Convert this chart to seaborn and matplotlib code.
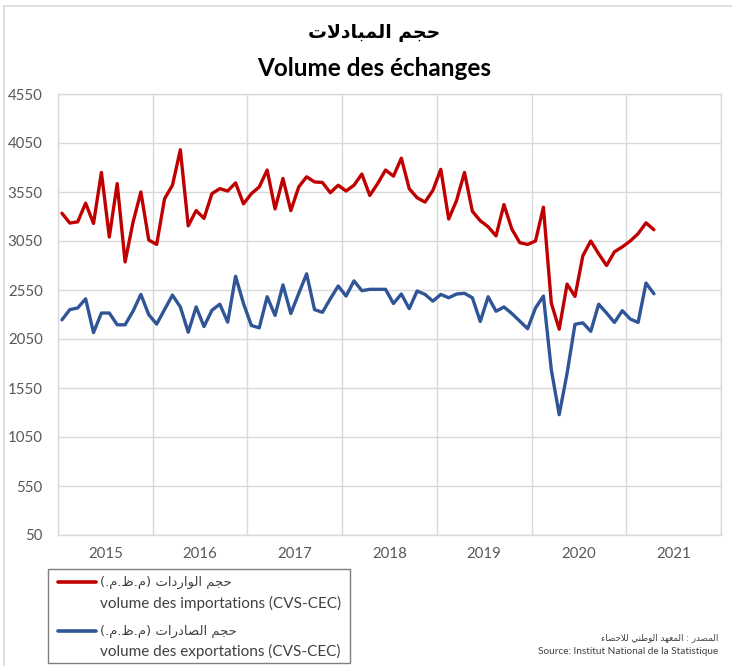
import matplotlib
matplotlib.use("Agg")
import numpy as np
import pandas as pd
import seaborn as sns
import matplotlib.pyplot as plt
from matplotlib.lines import Line2D
from matplotlib.patches import Rectangle

# ---------------- data (monthly, Jan 2015 - Apr 2021) ----------------
years = ["2015", "2016", "2017", "2018", "2019", "2020", "2021"]

imports = [3333, 3233, 3246, 3436, 3229, 3750, 3091, 3636, 2836, 3240, 3550, 3060,
           3015, 3481, 3619, 3981, 3205, 3360, 3281, 3533, 3584, 3560, 3643, 3429,
           3533, 3602, 3774, 3377, 3688, 3360, 3602, 3705, 3653, 3647, 3543, 3619,
           3560, 3619, 3733, 3515, 3636, 3774, 3712, 3895, 3584, 3491, 3447, 3567,
           3781, 3274, 3464, 3750, 3353, 3257, 3195, 3102, 3422, 3171, 3033, 3015,
           3050, 3395, 2417, 2150, 2610, 2485, 2900, 3050, 2920, 2800, 2940, 2990,
           3050, 3125, 3235, 3165]

exports = [2246, 2350, 2367, 2460, 2115, 2315, 2315, 2195, 2195, 2333, 2505, 2298,
           2202, 2350, 2498, 2377, 2119, 2377, 2177, 2343, 2405, 2222, 2690, 2412,
           2188, 2164, 2481, 2291, 2602, 2310, 2515, 2715, 2350, 2322, 2460, 2591,
           2488, 2643, 2543, 2557, 2557, 2557, 2412, 2509, 2360, 2540, 2505, 2436,
           2505, 2471, 2509, 2516, 2471, 2229, 2481, 2333, 2377, 2310, 2233, 2155,
           2367, 2488, 1737, 1278, 1700, 2200, 2215, 2128, 2405, 2315, 2219, 2339,
           2254, 2219, 2621, 2512]

title_ar = "حجم المبادلات"
title_fr = "Volume des échanges"
label_imp_ar = "حجم الواردات (م.ظ.م.)"
label_imp_fr = "volume des importations (CVS-CEC)"
label_exp_ar = "حجم الصادرات (م.ظ.م.)"
label_exp_fr = "volume des exportations (CVS-CEC)"
source_ar = "المصدر : المعهد الوطني للاحصاء"
source_fr = "Source: Institut National de la Statistique"

# ---------------- minimal Arabic shaping (no external libs) ----------------
FORMS = {
    'ء': (0xFE80, None, None, None),
    'ا': (0xFE8D, 0xFE8E, None, None),
    'ب': (0xFE8F, 0xFE90, 0xFE91, 0xFE92),
    'ت': (0xFE95, 0xFE96, 0xFE97, 0xFE98),
    'ج': (0xFE9D, 0xFE9E, 0xFE9F, 0xFEA0),
    'ح': (0xFEA1, 0xFEA2, 0xFEA3, 0xFEA4),
    'د': (0xFEA9, 0xFEAA, None, None),
    'ر': (0xFEAD, 0xFEAE, None, None),
    'ص': (0xFEB9, 0xFEBA, 0xFEBB, 0xFEBC),
    'ط': (0xFEC1, 0xFEC2, 0xFEC3, 0xFEC4),
    'ظ': (0xFEC5, 0xFEC6, 0xFEC7, 0xFEC8),
    'ع': (0xFEC9, 0xFECA, 0xFECB, 0xFECC),
    'ل': (0xFEDD, 0xFEDE, 0xFEDF, 0xFEE0),
    'م': (0xFEE1, 0xFEE2, 0xFEE3, 0xFEE4),
    'ن': (0xFEE5, 0xFEE6, 0xFEE7, 0xFEE8),
    'ه': (0xFEE9, 0xFEEA, 0xFEEB, 0xFEEC),
    'و': (0xFEED, 0xFEEE, None, None),
    'ي': (0xFEF1, 0xFEF2, 0xFEF3, 0xFEF4),
}


def shape_ar(text):
    def dual(c):
        return c in FORMS and FORMS[c][2] is not None
    chars = list(text)
    out = []
    i = 0
    n = len(chars)
    while i < n:
        c = chars[i]
        if c not in FORMS:
            out.append(c)
            i += 1
            continue
        prev = chars[i - 1] if i > 0 else None
        link_prev = prev is not None and dual(prev) and FORMS[c][1] is not None
        if c == 'ل' and i + 1 < n and chars[i + 1] == 'ا':
            out.append(chr(0xFEFC if link_prev else 0xFEFB))
            i += 2
            continue
        nxt = chars[i + 1] if i + 1 < n else None
        link_next = dual(c) and nxt is not None and nxt in FORMS
        iso, fin, ini, med = FORMS[c]
        if link_prev and link_next:
            g = med
        elif link_prev:
            g = fin
        elif link_next:
            g = ini
        else:
            g = iso
        out.append(chr(g))
        i += 1
    vis = "".join(out)[::-1]
    return vis.translate(str.maketrans("()", ")("))


# ---------------- figure ----------------
RED = "#C00000"
BLUE = "#2F5597"
GRID = "#D9D9D9"
TXT = "#595959"

sns.set_theme(style="white")
plt.rcParams["font.family"] = ["Lato", "DejaVu Sans"]

W, H = 732, 666
fig = plt.figure(figsize=(W / 100, H / 100), dpi=100)
fig.patch.set_facecolor("white")


def fx(x):
    return x / W


def fy(y):
    return 1 - y / H


ax = fig.add_axes([fx(58), fy(535), (721 - 58) / W, (535 - 94) / H])

df = pd.DataFrame({"month": np.arange(len(imports)),
                   "imports": imports, "exports": exports})
sns.lineplot(data=df, x="month", y="imports", color=RED, lw=2.4, ax=ax,
             solid_joinstyle="round", solid_capstyle="round")
sns.lineplot(data=df, x="month", y="exports", color=BLUE, lw=2.4, ax=ax,
             solid_joinstyle="round", solid_capstyle="round")

ax.set_xlim(-0.5, 12 * len(years) - 0.5)
ax.set_ylim(50, 4550)
ax.set_yticks(np.arange(50, 4551, 500))
ax.set_xticks([-0.5 + 12 * k for k in range(len(years) + 1)])
ax.set_xticklabels([])
ax.set_xticks([5.5 + 12 * k for k in range(len(years))], minor=True)
ax.set_xticklabels(years, minor=True)
ax.grid(True, which="major", color=GRID, lw=1)
ax.tick_params(which="both", length=0)
ax.tick_params(axis="y", pad=11, labelsize=10.8, labelcolor=TXT)
ax.tick_params(axis="x", which="minor", pad=9, labelsize=10.8, labelcolor=TXT)
ax.set_xlabel("")
ax.set_ylabel("")
for s in ax.spines.values():
    s.set_color(GRID)
    s.set_linewidth(1)

# titles
fig.text(fx(374), fy(33), shape_ar(title_ar), ha="center", va="center",
         fontsize=13.5, fontweight="bold", family=["DejaVu Sans"], color="black")
fig.text(fx(374), fy(68), title_fr, ha="center", va="center",
         fontsize=17.5, fontweight="bold", family=["Lato", "DejaVu Sans"], color="black")

# chart-area border (left & top)
fig.add_artist(Line2D([fx(4), fx(4)], [fy(6), fy(666)], color=GRID, lw=1.2,
                      transform=fig.transFigure))
fig.add_artist(Line2D([fx(4), fx(732)], [fy(6), fy(6)], color=GRID, lw=1.2,
                      transform=fig.transFigure))

# legend (manual, two-line labels)
fig.add_artist(Rectangle((fx(48), fy(663)), (350 - 48) / W, (663 - 569) / H,
                         transform=fig.transFigure, fill=False,
                         edgecolor="#7F7F7F", lw=1))
entries = [(RED, label_imp_ar, label_imp_fr, 582, 603),
           (BLUE, label_exp_ar, label_exp_fr, 631, 651)]
for col, ar, fr, y1, y2 in entries:
    fig.add_artist(Line2D([fx(58), fx(96)], [fy(y1), fy(y1)], color=col, lw=2.6,
                          transform=fig.transFigure))
    fig.text(fx(100), fy(y1), shape_ar(ar), ha="left", va="center",
             fontsize=9.5, family=["DejaVu Sans"], color="#404040")
    fig.text(fx(100), fy(y2), fr, ha="left", va="center",
             fontsize=11, family=["Lato", "DejaVu Sans"], color="#404040")

# source
fig.text(fx(718), fy(638), shape_ar(source_ar), ha="right", va="center",
         fontsize=6.3, family=["DejaVu Sans"], color="#404040")
fig.text(fx(718), fy(652), source_fr, ha="right", va="center",
         fontsize=7.2, family=["Lato", "DejaVu Sans"], color="#404040")

fig.savefig("out.png", dpi=100, facecolor="white")
